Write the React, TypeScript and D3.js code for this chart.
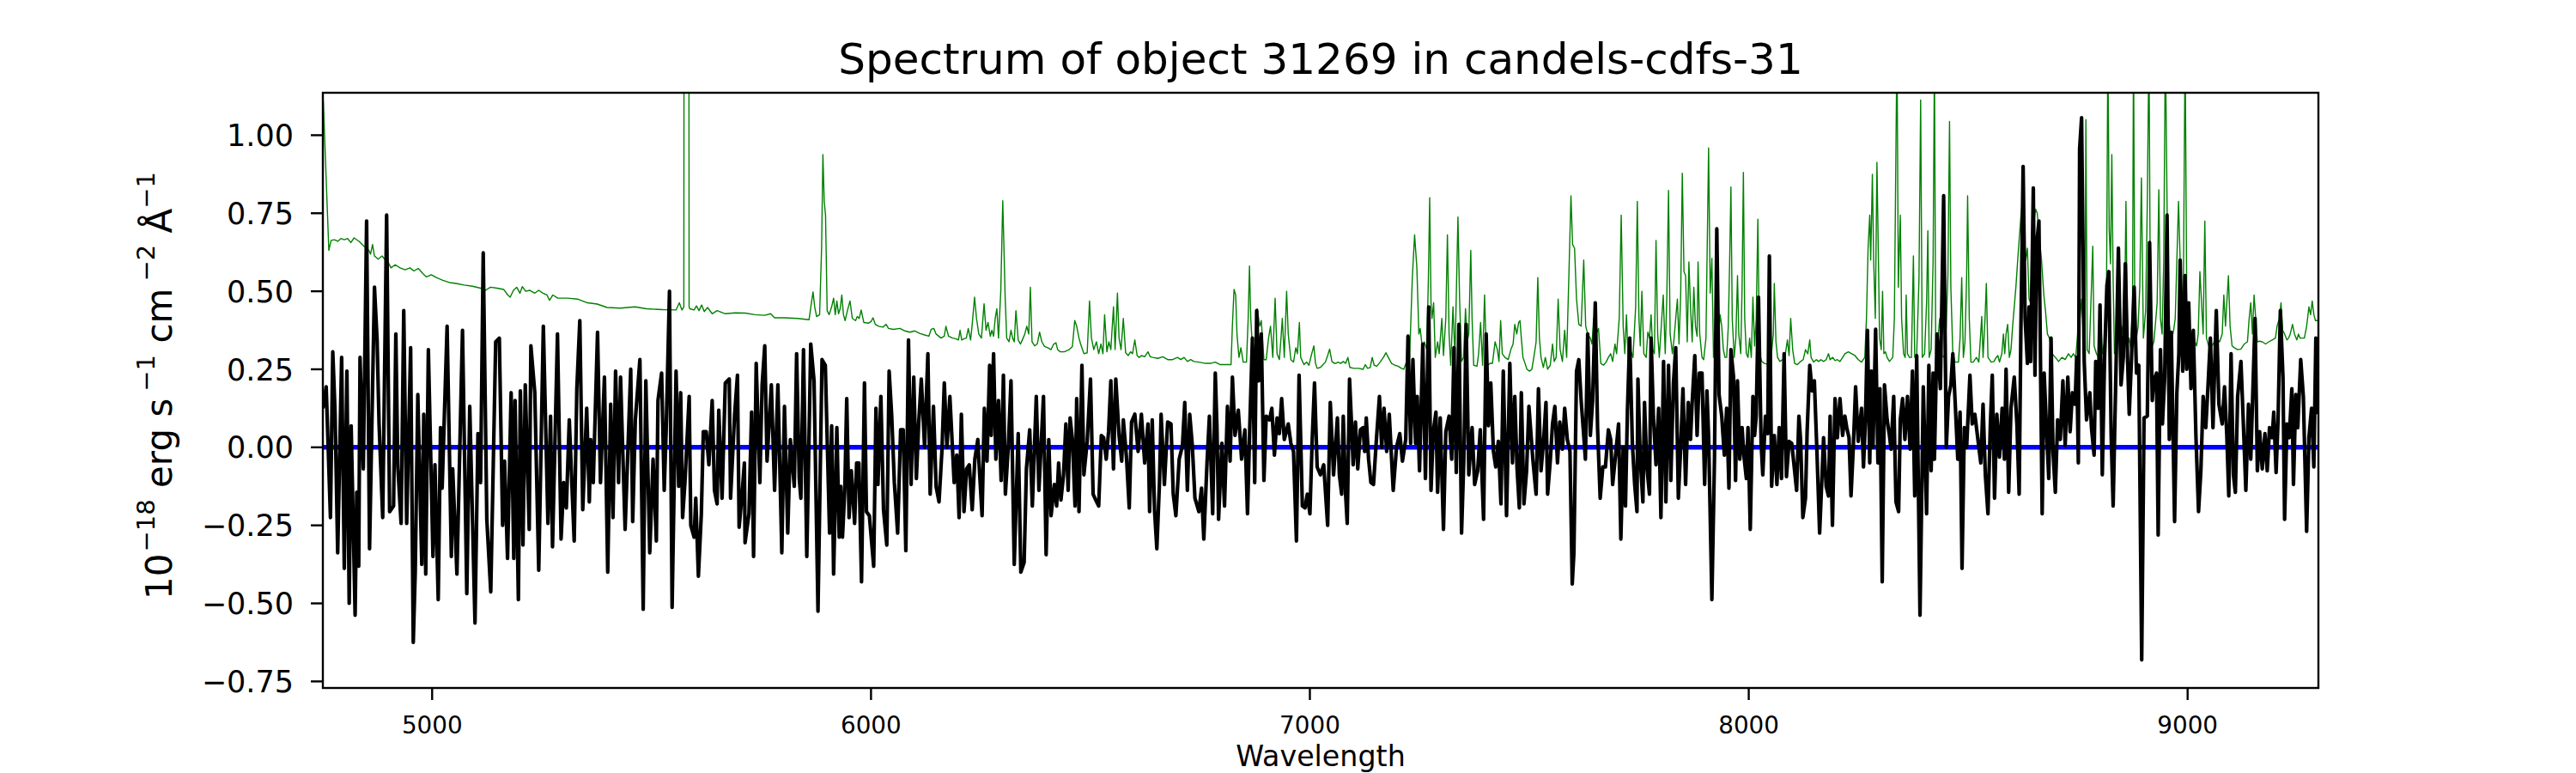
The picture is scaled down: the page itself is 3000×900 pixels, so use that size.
import React from 'react';
import * as d3 from 'd3';

const TITLE = 'Spectrum of object 31269 in candels-cdfs-31';
const X_LABEL = 'Wavelength';
const X_TICKS = [5000, 6000, 7000, 8000, 9000];
const Y_TICKS = [-0.75, -0.5, -0.25, 0, 0.25, 0.5, 0.75, 1.0];
const X_RANGE: [number, number] = [4751, 9298];
const Y_RANGE: [number, number] = [-0.771, 1.136];
const ZERO_LEVEL: [number, number][] = [[4751, 0], [9298, 0]];

// Object flux (black), wavelength [Å] vs 1e-18 erg/s/cm2/Å
const FLUX: [number, number][] = [
[4751.1,0.125],[4758.6,0.194],[4768.3,-0.225],[4773.6,0.306],[4778.8,0.113],[4784.8,-0.338],[4793.8,0.288],[4799.8,-0.388],[4805.8,0.244],[4811.0,-0.5],[4815.5,0.069],[4824.5,-0.538],[4828.2,-0.144],[4832.7,-0.381],[4835.7,0.288],[4843.2,-0.069],[4850.7,0.725],[4857.4,-0.325],[4868.6,0.513],[4874.6,0.344],[4879.1,0.075],[4887.4,-0.225],[4896.3,0.744],[4903.1,-0.206],[4912.1,-0.188],[4917.3,0.363],[4921.8,-0.063],[4929.3,-0.244],[4935.3,0.438],[4942.0,-0.244],[4951.0,0.319],[4957.0,-0.625],[4961.5,-0.4],[4967.4,0.169],[4976.4,-0.375],[4980.9,0.106],[4985.4,-0.406],[4991.4,0.313],[5001.9,-0.35],[5006.4,-0.056],[5013.9,-0.488],[5019.1,0.063],[5022.8,-0.131],[5034.1,0.388],[5043.8,-0.35],[5046.8,-0.069],[5056.5,-0.406],[5069.2,0.375],[5079.0,-0.469],[5085.7,0.131],[5097.7,-0.563],[5104.4,0.044],[5110.4,-0.113],[5116.4,0.623],[5124.6,-0.231],[5133.6,-0.463],[5144.8,0.338],[5153.1,0.35],[5160.6,-0.25],[5165.0,-0.044],[5171.8,-0.356],[5180.0,0.175],[5186.0,-0.356],[5189.0,0.15],[5196.5,-0.488],[5201.0,0.181],[5207.0,-0.313],[5212.2,0.2],[5221.2,-0.263],[5225.0,0.325],[5233.9,0.175],[5242.9,-0.394],[5253.4,0.388],[5263.9,-0.244],[5269.8,0.1],[5274.3,-0.319],[5285.6,0.363],[5293.8,-0.294],[5299.8,-0.113],[5305.8,-0.194],[5312.5,0.088],[5323.7,-0.3],[5329.7,0.188],[5336.5,0.406],[5343.2,-0.2],[5352.2,0.125],[5358.2,-0.175],[5361.2,0.025],[5367.1,-0.113],[5376.9,0.369],[5383.6,-0.113],[5392.6,0.225],[5400.1,-0.4],[5406.8,0.138],[5412.1,-0.225],[5418.0,0.244],[5424.8,-0.113],[5429.3,0.225],[5439.7,-0.263],[5452.5,0.25],[5457.0,-0.238],[5463.0,0.088],[5473.4,0.281],[5480.9,-0.519],[5486.9,0.213],[5495.9,-0.338],[5503.4,-0.038],[5510.9,-0.3],[5514.6,0.15],[5522.9,0.238],[5528.8,-0.138],[5533.3,0.056],[5540.8,0.5],[5546.8,-0.513],[5555.8,0.244],[5561.8,-0.125],[5566.3,0.175],[5570.7,-0.225],[5576.0,-0.113],[5585.7,0.163],[5589.4,-0.25],[5596.9,-0.288],[5600.7,-0.163],[5606.7,-0.413],[5613.4,-0.213],[5617.9,0.05],[5624.6,0.05],[5630.6,-0.056],[5638.1,0.15],[5643.3,-0.138],[5649.3,-0.181],[5653.1,0.119],[5660.6,-0.163],[5668.0,0.206],[5677.0,0.219],[5680.0,-0.163],[5689.0,0.1],[5695.7,0.231],[5699.5,-0.256],[5705.5,-0.163],[5711.5,-0.05],[5713.0,-0.306],[5721.9,-0.213],[5727.9,0.113],[5732.4,-0.35],[5738.4,0.269],[5746.7,-0.113],[5751.9,0.2],[5757.9,0.325],[5763.1,-0.044],[5772.9,0.2],[5780.3,-0.138],[5787.8,0.2],[5796.8,-0.338],[5802.8,0.131],[5810.3,-0.275],[5816.2,0.025],[5825.2,-0.125],[5830.5,0.3],[5836.5,-0.1],[5840.2,-0.163],[5846.2,0.313],[5853.7,-0.35],[5862.7,0.331],[5870.2,0.213],[5879.2,-0.525],[5888.4,0.281],[5895.9,0.263],[5905.6,-0.275],
[5910.3,0.069],[5914.8,-0.406],[5922.2,0.063],[5927.5,-0.288],[5931.2,-0.125],[5935.0,-0.288],[5940.2,-0.138],[5944.7,0.156],[5950.0,-0.225],[5955.2,-0.075],[5962.7,-0.244],[5967.2,-0.05],[5972.4,-0.05],[5978.4,-0.431],[5985.1,0.206],[5989.6,-0.206],[5996.3,-0.219],[6006.1,-0.381],[6011.3,0.125],[6015.8,-0.119],[6022.5,0.163],[6028.5,-0.2],[6036.0,-0.313],[6041.3,0.244],[6047.2,0.1],[6053.2,-0.113],[6060.7,-0.275],[6067.5,0.056],[6073.4,0.056],[6079.4,-0.331],[6085.4,0.344],[6091.4,-0.119],[6097.4,0.225],[6103.4,-0.1],[6108.6,0.075],[6114.6,0.219],[6122.1,0.0],[6129.6,0.3],[6134.8,-0.15],[6142.3,0.131],[6148.3,-0.125],[6155.0,-0.175],[6161.8,-0.006],[6167.0,0.206],[6173.0,0.0],[6179.7,0.163],[6189.5,-0.113],[6195.4,-0.025],[6200.7,-0.225],[6205.9,0.106],[6211.9,-0.206],[6217.9,-0.069],[6223.9,-0.056],[6230.6,-0.2],[6236.6,-0.038],[6243.4,0.025],[6245.6,-0.038],[6253.1,-0.219],[6258.3,0.125],[6264.3,-0.044],[6270.3,0.263],[6274.0,0.038],[6279.3,0.3],[6284.5,-0.038],[6290.5,0.15],[6296.5,-0.106],[6301.7,0.231],[6306.2,-0.15],[6313.0,0.006],[6319.0,0.213],[6326.4,-0.375],[6335.4,0.044],[6341.4,-0.4],[6348.9,-0.369],[6354.1,-0.069],[6361.6,0.056],[6367.6,-0.188],[6376.6,0.163],[6382.6,-0.138],[6393.0,0.163],[6399.0,-0.344],[6405.0,0.025],[6410.3,-0.219],[6417.8,-0.119],[6423.0,-0.188],[6427.5,-0.05],[6432.7,-0.169],[6438.7,-0.088],[6444.0,0.075],[6449.2,-0.138],[6453.7,0.094],[6459.0,0.025],[6464.9,-0.188],[6468.7,0.156],[6473.9,-0.206],[6480.6,0.263],[6485.1,-0.088],[6492.6,0.019],[6500.1,0.219],[6506.1,-0.15],[6512.1,-0.169],[6518.8,-0.188],[6524.8,0.038],[6530.0,0.031],[6536.0,-0.038],[6541.3,0.05],[6546.5,0.213],[6552.5,-0.069],[6557.7,0.219],[6565.2,0.038],[6571.2,-0.044],[6575.0,0.088],[6582.4,-0.038],[6588.4,-0.194],[6593.7,0.081],[6601.1,0.106],[6608.6,-0.013],[6616.1,0.106],[6623.6,-0.05],[6631.1,0.075],[6634.8,-0.206],[6640.8,0.088],[6646.0,-0.2],[6651.3,-0.325],[6657.3,-0.113],[6661.0,0.106],[6668.5,-0.119],[6676.0,0.081],[6683.5,0.075],[6688.7,-0.15],[6694.7,-0.219],[6702.2,-0.038],[6709.7,0.006],[6714.9,0.144],[6720.9,-0.138],[6726.2,0.106],[6732.1,0.006],[6738.1,-0.163],[6747.1,-0.206],[6753.1,-0.131],[6758.3,-0.294],[6765.8,-0.044],[6771.1,0.1],[6778.5,-0.213],[6784.5,0.238],[6788.3,0.063],[6792.0,-0.231],[6799.5,0.013],[6805.5,-0.188],[6812.2,0.131],[6818.2,-0.044],[6823.5,0.225],[6829.4,0.038],[6836.9,0.119],[6844.4,-0.038],[6851.9,0.056],[6857.9,-0.213],[6863.1,0.069],[6869.1,0.35],[6874.3,-0.113],[6878.8,0.438],[6883.3,0.213],[6889.3,0.363],[6895.3,-0.106],[6900.5,0.1],[6908.0,0.088],[6913.3,0.125],[6919.2,-0.025],[6925.2,0.094],[6930.5,0.044],[6935.7,0.156],[6941.7,0.025],[6950.7,0.075],[6956.7,0.013],[6962.7,-0.013],[6969.4,-0.3],[6975.4,0.231],[6982.9,-0.188],[6988.9,-0.194],[6994.1,-0.15],[7000.1,-0.213],[7005.3,0.025],[7010.6,0.206],[7016.6,-0.063],[7024.0,-0.088],[7031.5,-0.056],[7040.5,-0.25],[7046.5,0.144],[7054.0,-0.088],
[7062.7,0.094],[7067.2,-0.088],[7072.4,-0.15],[7076.1,0.1],[7081.4,-0.15],[7085.1,-0.244],[7090.4,0.219],[7094.9,0.075],[7098.6,-0.056],[7103.8,0.081],[7109.1,-0.069],[7115.1,0.056],[7121.1,0.063],[7124.8,-0.013],[7128.5,0.094],[7133.8,-0.038],[7139.0,-0.113],[7145.0,-0.119],[7151.0,0.013],[7158.5,0.163],[7163.7,0.0],[7169.0,0.125],[7175.0,-0.013],[7180.9,0.106],[7186.2,-0.038],[7189.9,-0.138],[7197.4,0.0],[7204.9,0.044],[7210.9,-0.044],[7218.4,0.025],[7223.6,0.356],[7229.6,0.013],[7234.8,0.281],[7240.8,0.013],[7244.6,0.163],[7249.8,-0.075],[7257.3,0.331],[7263.3,-0.1],[7270.8,0.45],[7276.0,-0.138],[7281.2,0.05],[7287.2,0.113],[7291.0,-0.144],[7297.0,0.094],[7304.4,-0.263],[7309.7,0.05],[7317.2,0.1],[7323.1,-0.038],[7328.4,0.319],[7333.6,-0.081],[7339.6,0.394],[7345.6,-0.275],[7350.8,-0.038],[7356.1,0.394],[7362.1,-0.088],[7369.6,0.063],[7375.5,-0.119],[7382.3,-0.075],[7388.3,0.056],[7395.8,-0.231],[7401.7,0.363],[7407.0,0.069],[7412.2,0.206],[7418.2,-0.013],[7423.5,-0.063],[7429.4,0.019],[7435.4,-0.181],[7440.7,0.244],[7448.1,-0.219],[7455.6,0.269],[7461.6,-0.05],[7466.9,0.163],[7472.1,-0.069],[7477.3,-0.194],[7481.8,0.175],[7487.8,-0.181],[7493.8,-0.075],[7499.1,0.131],[7508.0,-0.038],[7515.5,-0.15],[7520.8,0.188],[7526.7,-0.075],[7532.7,0.025],[7538.0,0.144],[7541.7,-0.15],[7547.7,-0.044],[7552.9,0.075],[7558.2,0.131],[7564.2,-0.05],[7569.4,0.081],[7575.4,-0.006],[7580.6,0.125],[7586.6,0.025],[7592.6,-0.013],[7597.8,-0.438],[7601.6,-0.338],[7607.6,0.244],[7612.8,0.281],[7618.1,0.15],[7624.0,0.038],[7627.8,-0.038],[7633.0,0.363],[7639.0,0.038],[7644.3,0.15],[7650.3,0.463],[7655.5,0.063],[7661.5,-0.163],[7667.5,-0.063],[7673.4,-0.063],[7680.2,0.056],[7685.4,0.025],[7689.9,-0.119],[7697.4,-0.013],[7703.4,0.075],[7708.6,-0.294],[7713.9,0.0],[7719.1,-0.188],[7723.6,0.119],[7728.8,0.35],[7734.8,0.013],[7740.1,-0.119],[7745.3,-0.206],[7747.5,0.219],[7752.8,-0.038],[7758.8,-0.175],[7762.5,0.144],[7767.8,-0.063],[7773.8,-0.15],[7777.5,0.35],[7782.7,0.1],[7788.7,-0.056],[7794.7,0.125],[7799.9,-0.225],[7805.9,0.275],[7811.2,-0.175],[7817.2,0.263],[7822.4,-0.106],[7828.4,0.206],[7833.6,0.319],[7839.6,-0.163],[7844.9,0.0],[7850.1,0.188],[7856.1,-0.119],[7862.1,0.144],[7867.3,0.025],[7871.1,0.144],[7877.1,0.294],[7882.3,0.038],[7887.5,0.238],[7893.5,0.238],[7899.5,-0.119],[7904.7,0.181],[7908.5,0.038],[7916.0,-0.488],[7922.0,-0.031],[7927.2,0.7],[7932.4,0.169],[7938.4,0.1],[7944.4,-0.025],[7949.6,0.125],[7954.9,-0.131],[7959.4,0.313],[7965.4,0.225],[7969.9,-0.106],[7974.3,0.213],[7979.6,-0.038],[7984.8,0.063],[7989.3,-0.031],[7994.6,-0.1],[7998.3,0.063],[8003.5,-0.263],[8009.5,0.163],[8013.3,0.038],[8017.0,0.1],[8022.2,0.481],[8028.2,0.013],[8032.0,-0.088],[8038.0,0.1],[8043.2,0.044],[8047.0,0.613],[8052.2,-0.125],[8058.2,0.038],[8064.2,-0.119],[8069.4,0.063],[8074.7,-0.1],[8080.6,0.3],[8085.9,-0.094],[8091.9,0.019],[8097.9,0.013],[8103.1,-0.056],[8109.1,-0.138],[8114.3,0.1],[8118.1,0.025],[8123.3,-0.225],[8129.3,-0.163],[8133.0,0.05],[8139.0,0.263],[8144.3,0.181],[8149.5,0.213],[8155.5,-0.019],[8161.5,-0.275],[8166.7,-0.1],[8170.5,0.031],[8176.4,-0.125],[8181.7,-0.156],[8185.4,0.1],[8190.7,-0.25],[8196.6,0.156],[8201.9,0.031],[8207.9,0.156],[8213.9,0.038],[8219.1,0.1],
[8223.3,0.063],[8228.5,0.031],[8233.0,-0.156],[8238.2,0.0],[8243.5,0.194],[8249.5,0.019],[8257.0,0.125],[8261.4,-0.063],[8265.9,0.088],[8270.4,0.375],[8275.7,-0.05],[8279.4,0.244],[8283.1,0.0],[8289.1,0.378],[8294.4,-0.05],[8298.9,0.188],[8304.1,-0.431],[8309.3,0.2],[8315.3,0.088],[8320.6,0.038],[8324.3,-0.006],[8330.3,0.163],[8335.5,-0.175],[8341.5,-0.206],[8345.3,0.088],[8350.5,0.156],[8355.8,0.025],[8361.7,0.163],[8367.7,-0.006],[8373.0,0.244],[8378.2,-0.156],[8382.7,0.294],[8390.2,-0.538],[8397.7,0.194],[8405.2,-0.213],[8410.4,0.263],[8415.6,-0.075],[8420.1,0.238],[8423.1,-0.038],[8429.1,0.363],[8436.6,0.188],[8444.1,0.806],[8450.1,0.0],[8455.3,0.163],[8460.6,0.2],[8465.0,0.3],[8471.0,0.125],[8476.3,-0.038],[8481.5,0.113],[8486.0,-0.388],[8491.2,0.063],[8496.5,0.0],[8504.0,0.231],[8509.2,0.075],[8515.2,0.106],[8522.7,0.019],[8528.7,-0.05],[8533.9,0.138],[8539.1,-0.088],[8545.1,-0.213],[8550.4,0.069],[8554.9,0.231],[8560.1,-0.163],[8565.3,0.106],[8571.3,-0.031],[8577.3,0.125],[8582.6,-0.038],[8586.3,0.25],[8592.3,-0.144],[8597.5,0.125],[8605.0,0.225],[8611.0,0.075],[8616.2,-0.15],[8620.0,0.363],[8625.2,0.9],[8629.7,0.413],[8635.0,0.269],[8638.7,0.45],[8642.4,0.275],[8648.4,0.831],[8652.2,0.231],[8655.9,0.65],[8661.2,0.725],[8668.6,-0.213],[8673.1,0.238],[8678.4,0.063],[8683.6,-0.1],[8688.8,0.35],[8693.3,-0.013],[8698.6,-0.144],[8703.8,0.088],[8709.8,0.025],[8715.8,0.213],[8721.0,0.006],[8727.0,0.225],[8732.3,0.05],[8737.5,0.175],[8743.5,0.138],[8747.2,0.288],[8751.0,-0.05],[8753.9,0.956],[8758.4,1.056],[8764.4,0.275],[8769.7,0.088],[8777.2,0.175],[8780.9,0.063],[8786.9,-0.025],[8790.6,0.275],[8795.9,0.125],[8800.4,0.456],[8805.6,-0.088],[8810.8,0.288],[8816.1,0.519],[8820.6,0.563],[8825.8,0.038],[8830.3,-0.188],[8837.0,0.263],[8842.3,0.638],[8848.3,0.2],[8853.5,0.288],[8858.0,0.588],[8863.2,0.281],[8867.0,0.106],[8872.2,0.288],[8878.2,0.513],[8883.5,0.238],[8888.7,0.263],[8895.4,-0.681],[8900.7,0.094],[8908.2,0.1],[8913.4,0.656],[8919.4,0.15],[8923.1,0.213],[8929.1,0.238],[8932.9,-0.281],[8938.1,0.313],[8942.6,0.075],[8947.8,0.225],[8953.1,0.744],[8958.3,0.025],[8962.8,0.369],[8970.3,-0.238],[8975.5,0.175],[8980.0,0.3],[8983.0,0.6],[8989.0,0.244],[8994.2,0.55],[8998.0,0.25],[9002.5,0.463],[9007.7,0.188],[9013.0,0.375],[9018.9,0.038],[9024.9,-0.206],[9030.2,-0.075],[9035.4,0.163],[9041.4,0.063],[9046.6,0.2],[9051.9,0.35],[9057.8,0.063],[9065.3,0.438],[9071.3,0.138],[9078.8,0.075],[9084.1,0.194],[9089.3,0.038],[9093.8,-0.156],[9099.0,0.3],[9104.3,-0.088],[9108.8,-0.144],[9114.0,0.163],[9121.5,0.275],[9126.7,0.088],[9132.7,-0.138],[9138.7,0.138],[9143.9,-0.038],[9153.7,0.413],[9158.9,-0.075],[9164.2,0.05],[9170.1,-0.069],[9176.1,0.044],[9181.4,-0.075],[9186.6,0.063],[9192.6,0.031],[9196.3,0.113],[9201.6,-0.081],[9206.1,0.088],[9211.3,0.438],[9217.3,0.225],[9221.0,-0.231],[9226.3,0.075],[9231.5,0.031],[9237.5,0.188],[9241.2,-0.119],[9246.5,0.169],[9251.0,0.063],[9257.7,0.281],[9263.7,0.163],[9271.2,-0.269],[9276.4,0.031],[9282.4,0.125],[9287.6,-0.063],[9292.2,0.35],[9295.9,0.106]
];

// Sky / noise spectrum (green)
const SKY: [number, number][] = [
[4752.0,1.11],[4764.6,0.631],[4769.8,0.663],[4777.3,0.665],[4784.8,0.66],[4792.3,0.669],[4799.8,0.665],[4807.3,0.669],[4814.8,0.656],[4822.2,0.671],[4833.5,0.66],[4844.7,0.644],[4855.9,0.631],[4859.7,0.619],[4864.2,0.65],[4868.6,0.613],[4876.9,0.603],[4885.9,0.613],[4893.3,0.6],[4900.8,0.59],[4906.1,0.575],[4915.8,0.585],[4927.0,0.575],[4938.3,0.569],[4949.5,0.575],[4958.5,0.565],[4968.2,0.573],[4979.4,0.556],[4986.9,0.546],[4998.1,0.553],[5009.4,0.544],[5024.3,0.535],[5039.3,0.528],[5054.3,0.525],[5073.0,0.52],[5091.7,0.516],[5110.4,0.51],[5121.6,0.503],[5132.9,0.513],[5147.8,0.51],[5162.8,0.506],[5172.5,0.488],[5177.8,0.481],[5185.3,0.503],[5192.7,0.513],[5200.2,0.494],[5205.5,0.515],[5213.0,0.5],[5222.7,0.503],[5233.9,0.494],[5242.9,0.503],[5252.6,0.494],[5261.6,0.488],[5267.6,0.471],[5275.1,0.488],[5286.3,0.478],[5308.7,0.478],[5331.2,0.475],[5353.7,0.463],[5376.1,0.459],[5398.6,0.448],[5428.5,0.446],[5462.2,0.45],[5488.4,0.444],[5525.8,0.441],[5555.8,0.44],[5563.2,0.463],[5569.2,0.44],[5573.5,0.45],[5575.5,5.0],[5583.5,5.0],[5585.5,0.45],[5587.2,0.444],[5596.9,0.44],[5602.2,0.453],[5608.1,0.438],[5614.1,0.456],[5620.1,0.435],[5627.6,0.448],[5638.1,0.428],[5649.3,0.438],[5668.0,0.428],[5690.5,0.431],[5713.0,0.43],[5735.4,0.425],[5757.9,0.423],[5771.3,0.428],[5780.3,0.415],[5802.8,0.415],[5832.7,0.413],[5858.9,0.409],[5864.2,0.463],[5867.9,0.498],[5871.7,0.45],[5876.1,0.419],[5882.9,0.425],[5887.4,0.638],[5890.4,0.938],[5893.4,0.788],[5896.4,0.744],[5900.1,0.438],[5904.6,0.425],
[5910.3,0.45],[5914.8,0.478],[5918.5,0.425],[5922.2,0.469],[5926.0,0.428],[5929.7,0.444],[5933.5,0.488],[5937.2,0.425],[5941.0,0.406],[5946.2,0.438],[5952.2,0.469],[5957.4,0.413],[5964.9,0.406],[5968.7,0.419],[5973.1,0.413],[5977.6,0.44],[5983.6,0.4],[5994.8,0.398],[6000.1,0.403],[6004.6,0.415],[6009.8,0.394],[6017.3,0.388],[6027.0,0.385],[6034.5,0.394],[6039.8,0.381],[6051.0,0.378],[6066.0,0.381],[6077.2,0.373],[6088.4,0.369],[6099.6,0.373],[6110.9,0.365],[6122.1,0.36],[6131.8,0.356],[6137.1,0.378],[6143.1,0.381],[6148.3,0.363],[6159.5,0.35],[6167.0,0.356],[6170.7,0.388],[6176.7,0.356],[6185.7,0.35],[6193.2,0.348],[6199.2,0.344],[6202.9,0.375],[6206.7,0.344],[6211.9,0.348],[6217.2,0.35],[6221.6,0.381],[6226.9,0.344],[6230.6,0.394],[6235.9,0.481],[6240.4,0.413],[6245.6,0.363],[6251.6,0.35],[6257.6,0.46],[6262.1,0.375],[6266.6,0.4],[6271.8,0.356],[6275.5,0.375],[6279.3,0.356],[6283.0,0.413],[6286.8,0.444],[6290.5,0.35],[6295.7,0.5],[6300.2,0.79],[6302.5,0.663],[6305.5,0.488],[6309.2,0.35],[6314.5,0.338],[6319.0,0.375],[6322.7,0.35],[6326.4,0.338],[6330.2,0.438],[6335.4,0.344],[6340.7,0.331],[6346.6,0.35],[6350.4,0.363],[6354.9,0.388],[6359.4,0.363],[6363.1,0.513],[6366.9,0.338],[6372.8,0.325],[6378.8,0.331],[6384.1,0.369],[6389.3,0.338],[6395.3,0.323],[6402.8,0.319],[6410.3,0.313],[6416.3,0.331],[6421.5,0.335],[6425.2,0.313],[6431.2,0.306],[6440.2,0.306],[6451.4,0.313],[6458.9,0.323],[6464.2,0.406],[6468.7,0.388],[6473.9,0.35],[6477.6,0.331],[6485.1,0.3],[6492.6,0.303],[6497.9,0.469],[6502.3,0.35],[6507.6,0.313],[6513.6,0.338],[6518.8,0.3],[6524.0,0.331],[6528.5,0.3],[6532.3,0.425],[6537.5,0.306],[6542.0,0.338],[6546.5,0.313],[6552.5,0.45],[6556.2,0.313],[6561.5,0.494],[6565.2,0.35],[6569.7,0.313],[6574.9,0.413],[6580.2,0.303],[6586.2,0.294],[6591.4,0.306],[6595.9,0.3],[6601.1,0.344],[6606.4,0.294],[6610.9,0.288],[6616.1,0.294],[6623.6,0.29],[6631.1,0.306],[6636.3,0.29],[6642.3,0.288],[6653.5,0.285],[6664.8,0.29],[6676.0,0.281],[6687.2,0.281],[6698.4,0.288],[6705.9,0.281],[6713.4,0.288],[6720.9,0.275],[6728.4,0.281],[6735.9,0.275],[6747.1,0.273],[6762.1,0.269],[6773.3,0.269],[6784.5,0.273],[6795.8,0.265],[6807.0,0.265],[6820.4,0.265],[6823.4,0.388],[6827.2,0.506],[6830.9,0.488],[6833.9,0.363],[6838.4,0.288],[6842.9,0.319],[6848.1,0.273],[6855.6,0.273],[6859.4,0.413],[6862.4,0.581],[6865.3,0.413],[6870.6,0.281],[6875.8,0.338],[6880.3,0.444],[6885.6,0.388],[6889.3,0.406],[6895.3,0.281],[6900.5,0.281],[6905.8,0.35],[6910.3,0.388],[6915.5,0.288],[6920.8,0.478],[6925.2,0.3],[6930.5,0.281],[6934.2,0.35],[6937.2,0.413],[6941.7,0.288],[6947.0,0.5],[6950.7,0.363],[6956.7,0.281],[6962.7,0.273],[6967.9,0.319],[6971.6,0.3],[6976.1,0.4],[6979.1,0.288],[6986.6,0.265],[6992.6,0.273],[6997.8,0.263],[7003.1,0.294],[7009.1,0.325],[7012.8,0.269],[7016.6,0.253],[7024.0,0.256],[7030.0,0.265],[7035.3,0.273],[7040.5,0.294],[7045.0,0.315],[7050.2,0.275],[7056.2,0.269],
[7058.9,0.269],[7064.2,0.273],[7070.2,0.269],[7076.1,0.275],[7081.4,0.269],[7086.6,0.288],[7091.1,0.256],[7100.1,0.253],[7111.3,0.253],[7121.1,0.25],[7126.3,0.265],[7131.5,0.253],[7137.5,0.256],[7142.0,0.288],[7146.5,0.263],[7152.5,0.26],[7160.0,0.273],[7167.5,0.288],[7173.4,0.303],[7178.7,0.288],[7186.2,0.269],[7193.7,0.263],[7201.1,0.26],[7208.6,0.253],[7213.9,0.25],[7219.9,0.273],[7227.3,0.288],[7233.3,0.538],[7238.6,0.681],[7243.8,0.575],[7248.3,0.363],[7251.3,0.381],[7255.8,0.325],[7261.0,0.338],[7266.3,0.313],[7270.0,0.538],[7273.0,0.8],[7276.0,0.463],[7278.2,0.413],[7282.0,0.463],[7285.7,0.288],[7291.0,0.338],[7294.7,0.3],[7300.7,0.413],[7304.4,0.294],[7309.7,0.413],[7313.4,0.681],[7317.2,0.363],[7320.9,0.263],[7326.1,0.45],[7330.6,0.288],[7334.4,0.538],[7337.4,0.738],[7341.1,0.475],[7345.6,0.275],[7350.1,0.288],[7354.6,0.444],[7358.3,0.338],[7362.1,0.363],[7366.6,0.631],[7369.6,0.413],[7373.3,0.263],[7380.8,0.26],[7384.5,0.3],[7389.0,0.4],[7393.5,0.263],[7398.0,0.488],[7401.7,0.313],[7405.5,0.263],[7410.7,0.269],[7416.0,0.269],[7422.0,0.338],[7427.2,0.313],[7430.9,0.275],[7434.7,0.406],[7438.4,0.3],[7444.4,0.288],[7451.9,0.281],[7457.9,0.313],[7463.1,0.331],[7466.9,0.394],[7471.4,0.363],[7475.8,0.4],[7478.8,0.406],[7481.8,0.35],[7485.6,0.288],[7489.3,0.273],[7494.6,0.25],[7500.5,0.244],[7505.8,0.25],[7510.3,0.288],[7515.5,0.338],[7519.3,0.544],[7523.0,0.35],[7526.7,0.288],[7532.0,0.256],[7536.5,0.288],[7541.7,0.25],[7547.7,0.263],[7552.9,0.331],[7556.7,0.275],[7561.2,0.288],[7565.7,0.475],[7570.2,0.313],[7575.4,0.275],[7580.6,0.375],[7585.1,0.288],[7590.4,0.563],[7594.9,0.806],[7598.6,0.65],[7603.1,0.638],[7607.6,0.475],[7612.8,0.394],[7618.1,0.388],[7624.0,0.6],[7628.5,0.388],[7633.0,0.363],[7639.0,0.35],[7642.8,0.331],[7646.5,0.413],[7652.5,0.363],[7657.7,0.381],[7663.0,0.269],[7669.0,0.263],[7674.9,0.273],[7680.2,0.288],[7685.4,0.3],[7689.9,0.275],[7695.2,0.331],[7698.9,0.3],[7704.9,0.413],[7709.4,0.744],[7713.9,0.388],[7717.6,0.3],[7721.4,0.425],[7725.1,0.288],[7730.3,0.313],[7736.3,0.288],[7742.3,0.45],[7746.1,0.788],[7749.8,0.413],[7752.8,0.325],[7756.5,0.5],[7761.0,0.3],[7766.3,0.288],[7770.0,0.369],[7773.8,0.35],[7777.5,0.425],[7781.2,0.313],[7785.0,0.3],[7788.7,0.663],[7792.5,0.363],[7796.2,0.288],[7800.7,0.388],[7805.2,0.488],[7809.7,0.3],[7813.4,0.488],[7817.2,0.823],[7820.9,0.363],[7826.1,0.3],[7829.9,0.35],[7833.6,0.413],[7837.4,0.475],[7841.1,0.331],[7844.9,0.488],[7848.6,0.878],[7852.4,0.563],[7856.1,0.55],[7859.9,0.338],[7863.6,0.594],[7867.3,0.45],[7871.1,0.338],[7874.8,0.513],[7878.6,0.388],[7882.3,0.356],[7884.5,0.594],[7888.3,0.363],[7893.5,0.288],[7897.3,0.281],[7902.5,0.35],[7908.5,0.959],[7912.2,0.494],[7916.0,0.606],[7919.7,0.288],[7923.5,0.313],[7927.2,0.388],[7931.0,0.35],[7934.7,0.425],[7938.4,0.388],[7942.2,0.313],[7945.9,0.288],[7949.7,0.288],[7953.4,0.388],[7956.4,0.588],[7959.4,0.834],[7962.4,0.413],[7966.9,0.288],[7970.6,0.35],[7974.4,0.55],[7977.3,0.363],[7981.8,0.3],[7984.8,0.513],[7987.8,0.881],[7990.8,0.413],[7994.6,0.3],[7998.3,0.288],[8002.0,0.35],[8005.8,0.288],[8009.5,0.481],[8013.3,0.325],[8017.0,0.413],[8020.8,0.731],[8024.5,0.3],[8029.7,0.275],[8035.7,0.269],[8043.2,0.266],[8050.7,0.288],[8056.0,0.363],[8058.2,0.525],[8062.0,0.338],[8065.7,0.288],[8071.0,0.275],[8076.9,0.281],[8082.2,0.288],[8088.1,0.344],[8091.9,0.294],[8095.6,0.413],[8100.1,0.313],[8104.6,0.269],[8110.6,0.265],[8118.1,0.275],[8124.1,0.281],[8129.3,0.313],[8134.5,0.3],[8139.0,0.344],[8142.0,0.288],[8148.0,0.273],[8154.0,0.281],[8159.2,0.275],[8164.5,0.281],[8170.5,0.275],[8176.4,0.281],[8181.7,0.3],[8185.4,0.281],[8191.4,0.288],[8196.6,0.278],[8201.9,0.281],[8207.9,0.275],[8213.9,0.288],[8219.1,0.3],
[8227.0,0.306],[8234.5,0.3],[8242.0,0.294],[8249.5,0.281],[8257.0,0.273],[8264.4,0.288],[8268.2,0.413],[8271.9,0.638],[8275.7,0.744],[8277.9,0.6],[8281.7,0.875],[8284.6,0.6],[8288.4,0.413],[8292.1,0.913],[8295.9,0.563],[8298.1,0.35],[8301.9,0.313],[8304.9,0.5],[8307.9,0.3],[8311.6,0.306],[8315.3,0.288],[8320.6,0.275],[8328.1,0.288],[8331.8,0.413],[8335.5,0.975],[8337.8,1.3],[8340.8,0.513],[8345.3,0.744],[8348.3,0.413],[8352.8,0.3],[8356.5,0.288],[8358.7,0.488],[8361.7,0.3],[8366.2,0.288],[8370.7,0.288],[8375.2,0.613],[8378.2,0.288],[8382.7,0.3],[8387.9,0.538],[8391.7,1.113],[8395.4,0.288],[8400.7,0.3],[8405.2,0.463],[8408.1,0.694],[8411.1,0.288],[8415.6,0.313],[8420.1,0.6],[8423.1,1.25],[8426.1,0.3],[8430.6,0.338],[8435.1,0.413],[8440.3,0.294],[8445.6,0.288],[8450.1,0.388],[8453.8,0.55],[8457.5,1.044],[8460.5,0.513],[8465.0,0.3],[8470.3,0.273],[8477.8,0.273],[8481.5,0.35],[8485.3,0.544],[8489.0,0.288],[8492.7,0.338],[8496.5,0.55],[8498.7,0.806],[8502.5,0.413],[8506.2,0.273],[8511.4,0.273],[8518.9,0.288],[8524.2,0.273],[8527.9,0.35],[8530.9,0.419],[8533.9,0.288],[8538.4,0.413],[8541.4,0.525],[8545.1,0.288],[8552.6,0.273],[8558.6,0.275],[8563.8,0.288],[8567.6,0.294],[8571.3,0.273],[8576.6,0.3],[8580.3,0.363],[8583.3,0.3],[8586.3,0.363],[8590.0,0.394],[8593.8,0.288],[8597.5,0.313],[8601.3,0.388],[8608.7,0.513],[8614.7,0.638],[8620.0,0.738],[8623.7,0.788],[8627.5,0.688],[8631.2,0.6],[8635.0,0.638],[8638.7,0.475],[8642.4,0.463],[8646.2,0.663],[8649.9,0.725],[8653.7,0.763],[8657.4,0.75],[8661.2,0.688],[8667.1,0.6],[8672.4,0.488],[8676.1,0.438],[8680.6,0.363],[8685.1,0.35],[8691.1,0.3],[8698.6,0.288],[8706.1,0.275],[8713.5,0.288],[8721.0,0.281],[8728.5,0.3],[8734.5,0.288],[8739.7,0.3],[8745.0,0.288],[8749.5,0.363],[8752.5,0.669],[8754.7,0.413],[8758.4,0.475],[8762.2,0.363],[8765.9,0.313],[8768.2,1.05],[8771.2,0.313],[8775.7,0.3],[8780.9,0.513],[8783.9,0.644],[8786.9,0.325],[8792.2,0.3],[8797.4,0.288],[8801.9,0.413],[8805.6,0.3],[8810.8,0.338],[8815.3,0.513],[8818.3,1.3],[8821.3,0.7],[8824.3,0.588],[8827.3,0.938],[8830.3,0.538],[8833.3,0.3],[8838.5,0.35],[8842.3,0.463],[8846.8,0.338],[8852.0,0.388],[8855.8,0.35],[8859.5,0.788],[8863.2,0.325],[8867.0,0.35],[8870.7,0.313],[8874.5,0.463],[8876.7,1.3],[8879.7,0.413],[8883.5,0.35],[8887.2,0.388],[8891.0,0.513],[8894.7,0.863],[8899.2,0.35],[8904.4,0.438],[8908.2,0.788],[8911.9,1.3],[8915.6,0.35],[8919.4,0.325],[8923.1,0.338],[8926.9,0.4],[8930.6,0.463],[8934.4,0.825],[8938.1,0.413],[8941.9,0.363],[8945.6,0.6],[8949.3,1.3],[8953.1,0.788],[8956.8,0.413],[8960.6,0.363],[8964.3,0.35],[8968.1,0.375],[8971.8,0.413],[8975.5,0.6],[8979.3,0.788],[8983.0,0.6],[8986.8,0.388],[8990.5,0.538],[8994.3,1.3],[8998.0,0.475],[9001.8,0.388],[9005.5,0.338],[9009.2,0.363],[9013.0,0.375],[9016.7,0.338],[9020.5,0.325],[9024.2,0.363],[9028.0,0.563],[9031.7,0.463],[9035.4,0.363],[9039.2,0.725],[9042.9,0.35],[9050.4,0.313],[9057.9,0.331],[9065.4,0.35],[9072.8,0.338],[9078.8,0.363],[9082.5,0.488],[9086.3,0.388],[9089.3,0.463],[9093.0,0.55],[9096.8,0.388],[9101.3,0.325],[9106.5,0.319],[9114.0,0.313],[9121.5,0.315],[9129.0,0.331],[9136.4,0.338],[9140.2,0.413],[9143.9,0.463],[9147.7,0.363],[9151.4,0.488],[9155.2,0.413],[9158.9,0.338],[9164.2,0.34],[9170.1,0.338],[9177.6,0.331],[9185.1,0.338],[9192.6,0.344],[9200.1,0.35],[9203.8,0.388],[9209.1,0.413],[9212.8,0.463],[9216.6,0.375],[9221.0,0.363],[9226.3,0.344],[9230.1,0.35],[9233.8,0.363],[9239.0,0.394],[9243.5,0.363],[9248.8,0.344],[9252.5,0.363],[9256.3,0.35],[9260.0,0.35],[9266.0,0.35],[9271.2,0.388],[9276.4,0.45],[9280.2,0.425],[9283.9,0.469],[9287.7,0.425],[9291.4,0.406],[9295.9,0.406]
];

const FONT = '"DejaVu Sans", sans-serif';
const fmtY = (v: number) => d3.format('.2f')(v).replace('-', '\u2212');

export default function App() {
  const W = 3000, H = 900;
  const L = 376, R = 2700, T = 108, B = 801;
  const x = d3.scaleLinear().domain(X_RANGE).range([L, R]);
  const y = d3.scaleLinear().domain(Y_RANGE).range([B, T]);
  const line = d3.line<[number, number]>().x(d => x(d[0])).y(d => y(d[1]));
  const cx = (L + R) / 2;
  const supDy = 20;
  const supSize = 29;

  return (
    <svg width={W} height={H} viewBox={`0 0 ${W} ${H}`}
      style={{ position: 'absolute', left: 0, top: 0, background: '#fff' }}
      fontFamily={FONT}>
      <defs>
        <clipPath id="plotclip">
          <rect x={L} y={T} width={R - L} height={B - T} />
        </clipPath>
      </defs>
      <rect x={0} y={0} width={W} height={H} fill="#fff" />
      <g clipPath="url(#plotclip)">
        <path d={line(SKY) || ''} fill="none" stroke="#008000" strokeWidth={1.4} strokeLinejoin="round" />
        <path d={line(ZERO_LEVEL) || ''} fill="none" stroke="#0000ff" strokeWidth={5.5} />
        <path d={line(FLUX) || ''} fill="none" stroke="#000000" strokeWidth={4.2} strokeLinejoin="round" />
      </g>
      <rect x={L} y={T} width={R - L} height={B - T} fill="none" stroke="#000" strokeWidth={2.4} />
      {Y_TICKS.map(t => (
        <g key={'y' + t}>
          <line x1={L - 14} x2={L} y1={y(t)} y2={y(t)} stroke="#000" strokeWidth={2.4} />
          <text x={342} y={y(t)} dy="0.36em" textAnchor="end" fontSize={35}>{fmtY(t)}</text>
        </g>
      ))}
      {X_TICKS.map(t => (
        <g key={'x' + t}>
          <line x1={x(t)} x2={x(t)} y1={B} y2={B + 14} stroke="#000" strokeWidth={2.4} />
          <text x={x(t)} y={854} textAnchor="middle" fontSize={27.8}>{t}</text>
        </g>
      ))}
      <text x={cx} y={86} textAnchor="middle" fontSize={50}>{TITLE}</text>
      <text x={cx} y={892} textAnchor="middle" fontSize={33.3}>{X_LABEL}</text>
      <text transform={`translate(200,449) rotate(-90)`} textAnchor="middle" fontSize={42} style={{ whiteSpace: 'pre' }}>
        <tspan>10</tspan>
        <tspan dx={2} dy={-supDy} fontSize={supSize}>{'\u221218'}</tspan>
        <tspan dy={supDy}>{' erg s'}</tspan>
        <tspan dx={8} dy={-supDy} fontSize={supSize}>{'\u22121'}</tspan>
        <tspan dy={supDy}>{' cm'}</tspan>
        <tspan dx={8} dy={-supDy} fontSize={supSize}>{'\u22122'}</tspan>
        <tspan dy={supDy}>{' \u00C5'}</tspan>
        <tspan dx={0} dy={-supDy} fontSize={supSize}>{'\u22121'}</tspan>
      </text>
    </svg>
  );
}
